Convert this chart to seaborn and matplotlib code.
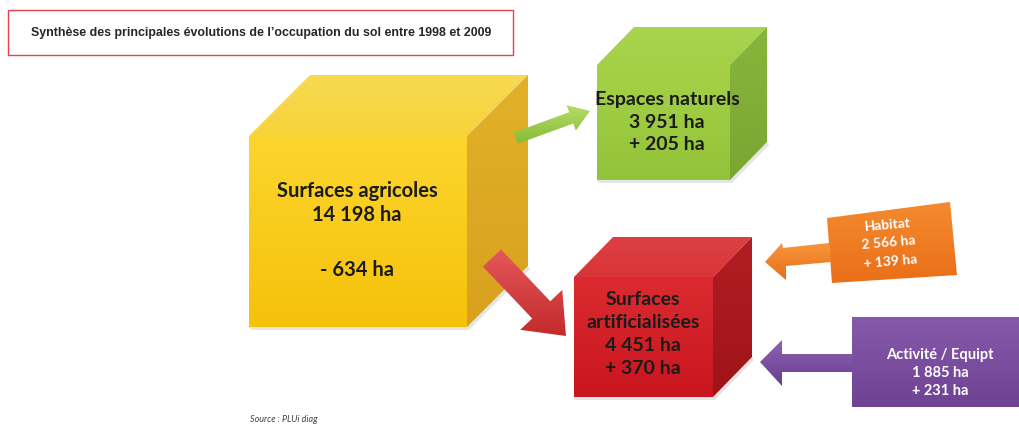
import numpy as np
import matplotlib
matplotlib.use("Agg")
import matplotlib.pyplot as plt
from matplotlib.patches import Polygon, Rectangle
from matplotlib.colors import LinearSegmentedColormap
import seaborn as sns

# ---------------- data ----------------
categories = ["Surfaces agricoles", "Espaces naturels", "Surfaces\nartificialisées",
              "Habitat", "Activité / Equipt"]
surfaces_ha = [14198, 3951, 4451, 2566, 1885]
evolution_ha = [-634, 205, 370, 139, 231]
title = "Synthèse des principales évolutions de l’occupation du sol entre 1998 et 2009"
source = "Source : PLUi diag"

sns.set_theme(style="white")
plt.rcParams["font.family"] = ["Lato", "DejaVu Sans"]


def fmt_ha(v):
    return f"{abs(v):,}".replace(",", " ") + " ha"


def fmt_evo(v):
    return ("+ " if v >= 0 else "- ") + fmt_ha(v)


W, H = 1019, 426
fig = plt.figure(figsize=(W / 100, H / 100), dpi=100)
ax = fig.add_axes([0, 0, 1, 1])
ax.axis("off")


def grad_poly(pts, c_top, c_bot, z=1, ec="none"):
    pts = np.asarray(pts, float)
    poly = Polygon(pts, closed=True, fc="none", ec=ec, lw=0.6, zorder=z)
    ax.add_patch(poly)
    x0, x1 = pts[:, 0].min(), pts[:, 0].max()
    y0, y1 = pts[:, 1].min(), pts[:, 1].max()
    cmap = LinearSegmentedColormap.from_list("g", [c_top, c_bot])
    grad = np.linspace(0, 1, 64).reshape(-1, 1)
    im = ax.imshow(grad, cmap=cmap, extent=(x0, x1, y1, y0), origin="upper",
                   aspect="auto", zorder=z, interpolation="bicubic")
    im.set_clip_path(poly)


def cube(x0, y0, x1, y1, dx, dy, front, top, right, z=1):
    # soft shadow under the cube
    ax.add_patch(Polygon([(x0 + 2, y1 + 3), (x1 + 2, y1 + 3), (x1 + dx + 2, y1 + dy + 3),
                          (x1 + dx, y1 + dy), (x1, y1), (x0, y1)],
                         fc="#000000", alpha=0.10, ec="none", zorder=z - 0.5))
    grad_poly([(x0, y0), (x1, y0), (x1 + dx, y0 + dy), (x0 + dx, y0 + dy)], top[0], top[1], z)
    grad_poly([(x1, y0), (x1 + dx, y0 + dy), (x1 + dx, y1 + dy), (x1, y1)], right[0], right[1], z)
    grad_poly([(x0, y0), (x1, y0), (x1, y1), (x0, y1)], front[0], front[1], z)


def arrow_poly(tail, tip, shaft_w, head_w, head_len):
    tail = np.asarray(tail, float)
    tip = np.asarray(tip, float)
    d = tip - tail
    L = np.hypot(*d)
    u = d / L
    n = np.array([-u[1], u[0]])
    base = tip - u * head_len
    return [tail + n * shaft_w / 2, base + n * shaft_w / 2, base + n * head_w / 2, tip,
            base - n * head_w / 2, base - n * shaft_w / 2, tail - n * shaft_w / 2]


# ---------------- title box ----------------
ax.add_patch(Rectangle((8, 10), 505, 45, fc="white", ec="#E8414F", lw=1.0, zorder=3))
ax.text(261, 33, title, ha="center", va="center", fontsize=8.95, fontweight="bold",
        color="#262626", family=["Liberation Sans", "DejaVu Sans"], zorder=4)

# ---------------- cubes ----------------
cube(249, 136, 467, 327, 61, -61,
     front=("#FCD52E", "#F5C20A"), top=("#F7DA52", "#F8D33A"), right=("#E2B129", "#D8A11E"), z=2)
cube(597, 65, 730, 180, 37, -38,
     front=("#A5D147", "#93C33A"), top=("#A9D450", "#A4CF47"), right=("#88B63C", "#78A631"), z=2)
cube(574, 277, 713, 397, 39, -40,
     front=("#DB2B30", "#C9151F"), top=("#DC4043", "#D93538"), right=("#B21D23", "#9E1419"), z=2)

# ---------------- arrows ----------------
grad_poly(arrow_poly((492, 258), (566, 336), 25, 58, 36), "#E4585A", "#C42A2C", z=5)
grad_poly(arrow_poly((516, 138), (590, 111), 12, 27, 20), "#B6DC66", "#86BB38", z=5)

# orange (Habitat)
grad_poly([(827, 218), (950, 202), (957, 275), (832, 283)], "#F48A2E", "#EA6F18", z=5)
grad_poly([(765, 262), (782, 243), (783, 248), (829, 243), (831, 262), (786, 266), (786, 280)],
          "#F6963C", "#E86E18", z=5)
# purple (Activité)
grad_poly([(852, 317), (1019, 317), (1019, 407), (852, 407)], "#8759AA", "#6F4293", z=5)
grad_poly([(760, 362), (782, 340), (782, 354), (853, 354), (853, 372), (782, 372), (782, 386)],
          "#8E62B2", "#6A3E8E", z=5)

# ---------------- labels ----------------
dark = "#1B1B1B"
ax.text(357, 203, f"{categories[0]}\n{fmt_ha(surfaces_ha[0])}", ha="center", va="center",
        fontsize=14.5, fontweight="bold", color=dark, linespacing=1.3, zorder=6)
ax.text(357, 270, fmt_evo(evolution_ha[0]), ha="center", va="center",
        fontsize=14.5, fontweight="bold", color=dark, zorder=6)
ax.text(667, 122, f"{categories[1]}\n{fmt_ha(surfaces_ha[1])}\n{fmt_evo(evolution_ha[1])}",
        ha="center", va="center", fontsize=14, fontweight="bold", color=dark,
        linespacing=1.4, zorder=6)
ax.text(643, 334, f"{categories[2]}\n{fmt_ha(surfaces_ha[2])}\n{fmt_evo(evolution_ha[2])}",
        ha="center", va="center", fontsize=14, fontweight="bold", color=dark,
        linespacing=1.45, zorder=6)
ax.text(889, 243, f"{categories[3]}\n{fmt_ha(surfaces_ha[3])}\n{fmt_evo(evolution_ha[3])}",
        ha="center", va="center", fontsize=10, fontweight="bold", color="white",
        linespacing=1.65, rotation=5, rotation_mode="anchor", zorder=6)
ax.text(940, 373, f"{categories[4]}\n{fmt_ha(surfaces_ha[4])}\n{fmt_evo(evolution_ha[4])}",
        ha="center", va="center", fontsize=10.5, fontweight="bold", color="white",
        linespacing=1.4, zorder=6)

ax.text(250, 419, source, ha="left", va="center", fontsize=6.5, style="italic",
        color="#444444", zorder=6)

ax.set_xlim(0, W)
ax.set_ylim(H, 0)
fig.savefig("out.png", dpi=100)
